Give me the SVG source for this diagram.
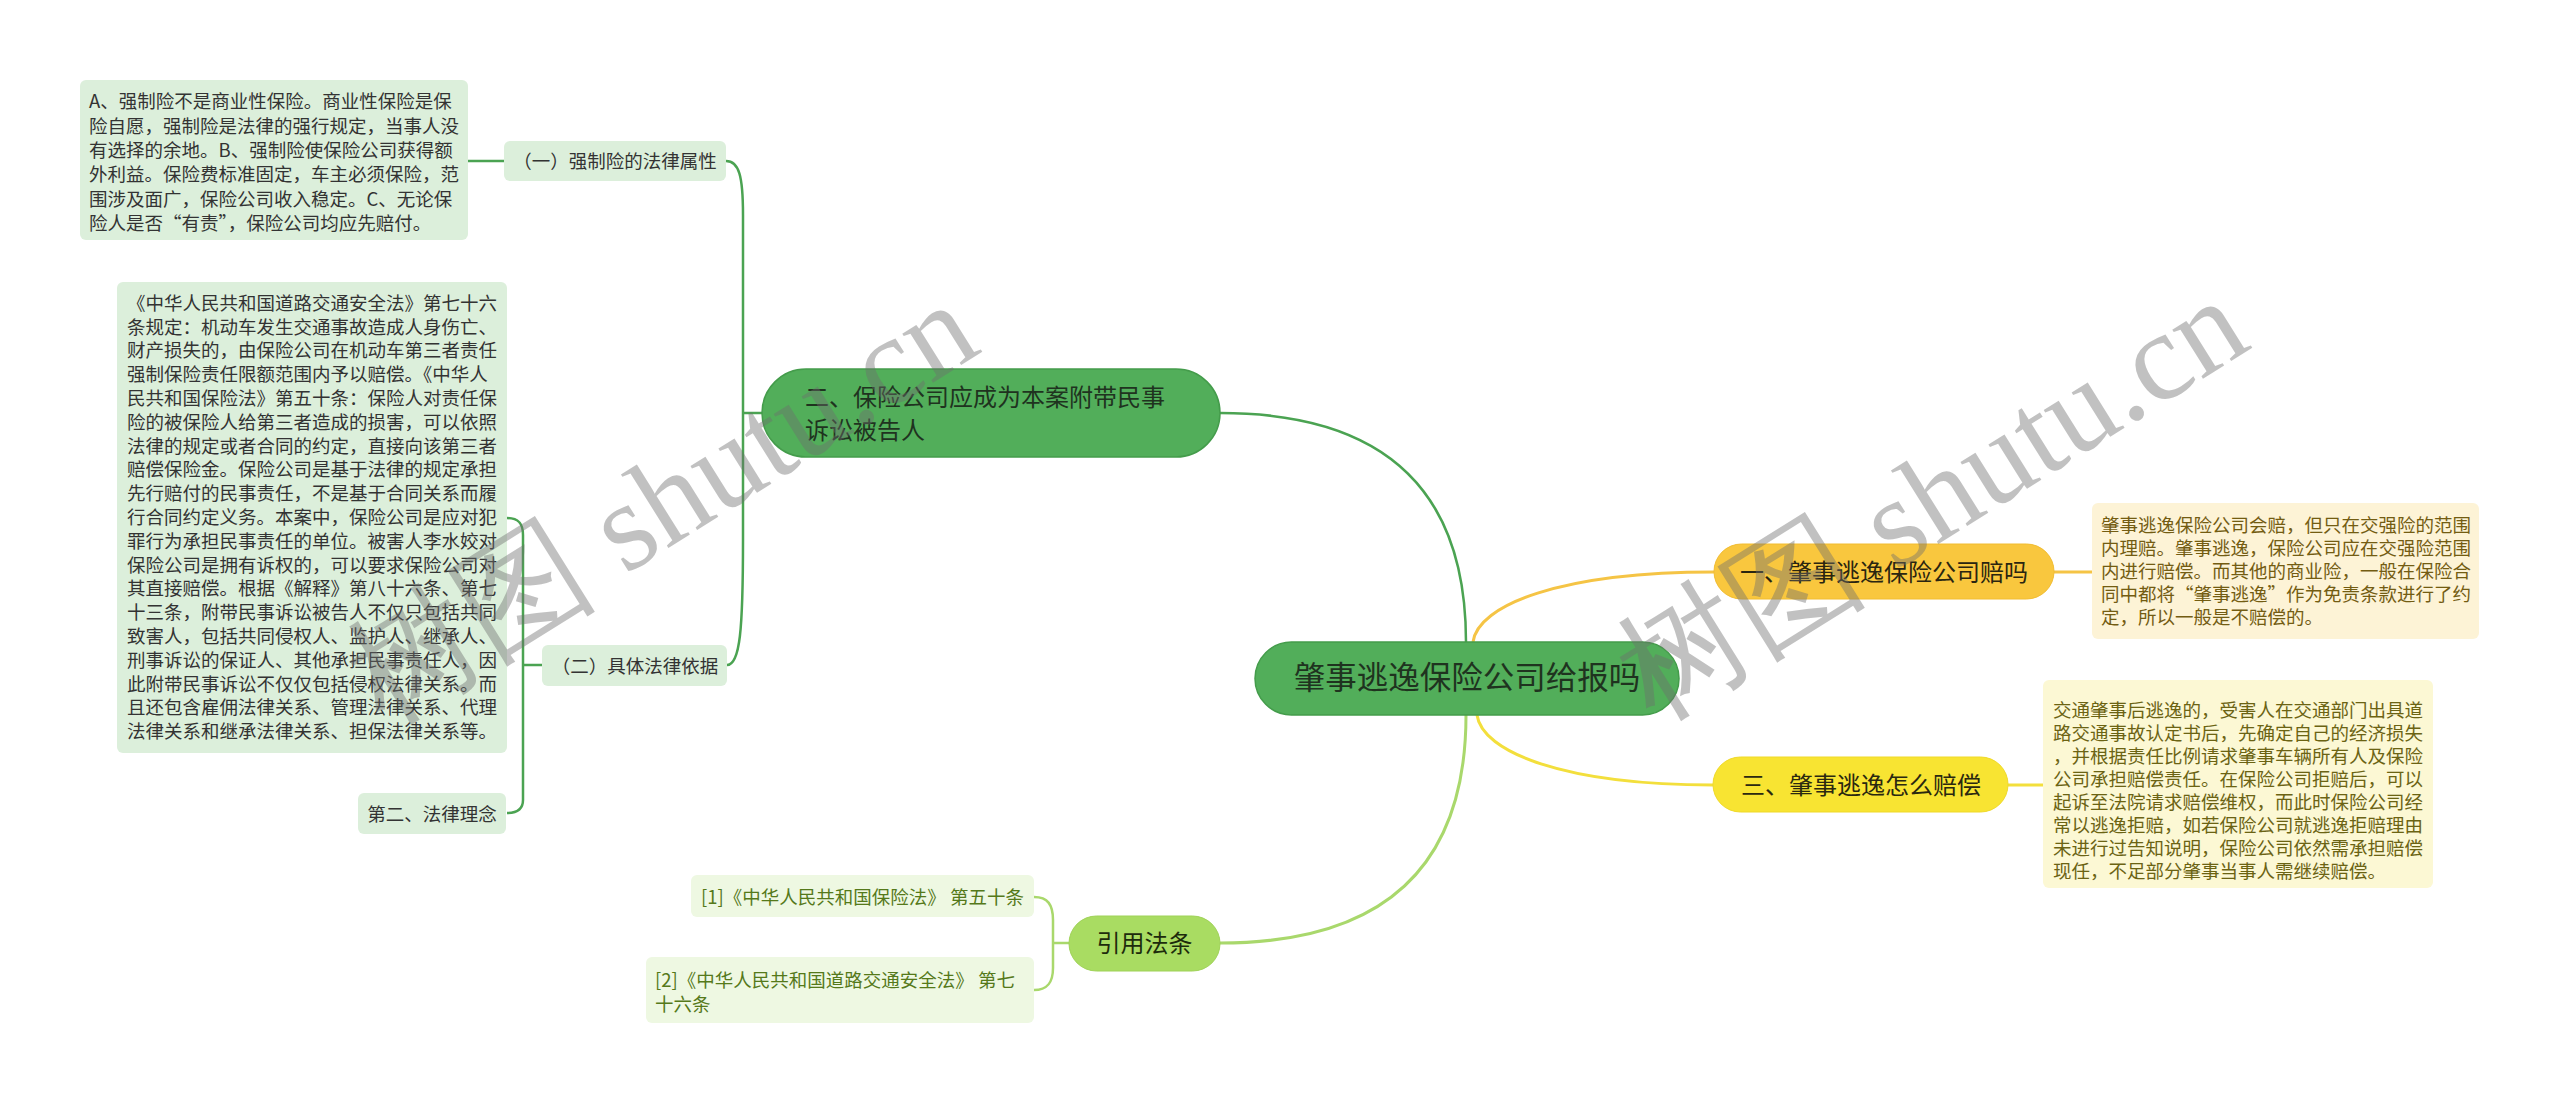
<svg xmlns="http://www.w3.org/2000/svg" width="2560" height="1103" viewBox="0 0 2560 1103">
<style>
.t{font-family:"Noto Sans CJK SC","Noto Sans",sans-serif;}
.t185{font-size:18.5px;}
.t24{font-size:24px;}
.dark{fill:#333333;}
.lg{fill:#dcefdb;}
.main{fill:#52ae5a;stroke:#449c4b;stroke-width:1.5;}
.maintext{fill:#1f331f;}
.cg{fill:none;stroke:#4ba352;stroke-width:2.5;}
.wm{font-family:"Liberation Serif",serif;font-size:126px;fill:#6e6e6e;opacity:0.42;}
</style>
<rect width="2560" height="1103" fill="#ffffff"/>
<g id="connectors">
<path class="cg" d="M1466,642 Q1466,413 1220,413"/>
<path class="cg" d="M762,413 H743 M743,413 V215 C743,176 739,161 726,161 M743,413 V540 C743,630 740,665 727,665"/>
<path class="cg" d="M504,161 H468"/>
<path class="cg" d="M542,665 H523 M507,518 C518,518 523,523 523,535 V800 C523,809 518,813 507,813"/>
<path fill="none" stroke="#f5c445" stroke-width="3" d="M1473,642 C1478,605 1560,572 1714,572 M2054,572 H2092"/>
<path fill="none" stroke="#f3df3c" stroke-width="3" d="M1477,715 C1482,752 1564,785 1713,785 M2008,785 H2043"/>
<path fill="none" stroke="#a9d86c" stroke-width="3" d="M1466,715 Q1466,943 1220,943"/>
<path fill="none" stroke="#a9d86c" stroke-width="2.5" d="M1069,943 H1053 M1034,897 C1048,897 1053,905 1053,920 V968 C1053,982 1048,990 1034,990"/>
</g>
<g id="n-central">
<rect class="main" x="1255" y="642" width="424" height="73" rx="36.5"/>
<text class="t maintext" x="1467" y="689" font-size="31.5" text-anchor="middle">肇事逃逸保险公司给报吗</text>
</g>
<g id="n-er">
<rect class="main" x="762" y="369" width="458" height="88" rx="44"/>
<text class="t maintext t24" x="805" y="405.6">二、保险公司应成为本案附带民事<tspan x="805" dy="33">诉讼被告人</tspan></text>
</g>
<g id="n-yi-a">
<rect class="lg" x="504" y="141" width="222" height="40" rx="6"/>
<text class="t dark t185" x="615" y="167.7" text-anchor="middle">（一）强制险的法律属性</text>
</g>
<g id="n-yi-a-text">
<rect class="lg" x="80" y="80" width="388" height="160" rx="6"/>
<text class="t dark t185" x="89" y="108.4">A、强制险不是商业性保险。商业性保险是保<tspan x="89" dy="24.3">险自愿，强制险是法律的强行规定，当事人没</tspan><tspan x="89" dy="24.3">有选择的余地。B、强制险使保险公司获得额</tspan><tspan x="89" dy="24.3">外利益。保险费标准固定，车主必须保险，范</tspan><tspan x="89" dy="24.3">围涉及面广，保险公司收入稳定。C、无论保</tspan><tspan x="89" dy="24.3">险人是否“有责”，保险公司均应先赔付。</tspan></text>
</g>
<g id="n-er-b">
<rect class="lg" x="542" y="645" width="185" height="41" rx="6"/>
<text class="t dark t185" x="635" y="672.7" text-anchor="middle">（二）具体法律依据</text>
</g>
<g id="n-er-b-text">
<rect class="lg" x="117" y="282" width="390" height="471" rx="6"/>
<text class="t dark t185" x="127" y="309.7">《中华人民共和国道路交通安全法》第七十六<tspan x="127" dy="23.8">条规定：机动车发生交通事故造成人身伤亡、</tspan><tspan x="127" dy="23.8">财产损失的，由保险公司在机动车第三者责任</tspan><tspan x="127" dy="23.8">强制保险责任限额范围内予以赔偿。《中华人</tspan><tspan x="127" dy="23.8">民共和国保险法》第五十条：保险人对责任保</tspan><tspan x="127" dy="23.8">险的被保险人给第三者造成的损害，可以依照</tspan><tspan x="127" dy="23.8">法律的规定或者合同的约定，直接向该第三者</tspan><tspan x="127" dy="23.8">赔偿保险金。保险公司是基于法律的规定承担</tspan><tspan x="127" dy="23.8">先行赔付的民事责任，不是基于合同关系而履</tspan><tspan x="127" dy="23.8">行合同约定义务。本案中，保险公司是应对犯</tspan><tspan x="127" dy="23.8">罪行为承担民事责任的单位。被害人李水姣对</tspan><tspan x="127" dy="23.8">保险公司是拥有诉权的，可以要求保险公司对</tspan><tspan x="127" dy="23.8">其直接赔偿。根据《解释》第八十六条、第七</tspan><tspan x="127" dy="23.8">十三条，附带民事诉讼被告人不仅只包括共同</tspan><tspan x="127" dy="23.8">致害人，包括共同侵权人、监护人、继承人、</tspan><tspan x="127" dy="23.8">刑事诉讼的保证人、其他承担民事责任人，因</tspan><tspan x="127" dy="23.8">此附带民事诉讼不仅仅包括侵权法律关系。而</tspan><tspan x="127" dy="23.8">且还包含雇佣法律关系、管理法律关系、代理</tspan><tspan x="127" dy="23.8">法律关系和继承法律关系、担保法律关系等。</tspan></text>
</g>
<g id="n-dier">
<rect class="lg" x="358" y="793" width="148" height="41" rx="6"/>
<text class="t dark t185" x="432" y="820.7" text-anchor="middle">第二、法律理念</text>
</g>
<g id="n-yi">
<rect x="1714" y="544" width="340" height="55" rx="27.5" fill="#f9c73e" stroke="#f1bc30" stroke-width="1"/>
<text class="t t24" x="1884" y="580.6" text-anchor="middle" fill="#2a2510">一、肇事逃逸保险公司赔吗</text>
</g>
<g id="n-yi-text">
<rect x="2092" y="503" width="387" height="136" rx="6" fill="#fdf3d6"/>
<text class="t t185" x="2101" y="531.7" fill="#735c12">肇事逃逸保险公司会赔，但只在交强险的范围<tspan x="2101" dy="23">内理赔。肇事逃逸，保险公司应在交强险范围</tspan><tspan x="2101" dy="23">内进行赔偿。而其他的商业险，一般在保险合</tspan><tspan x="2101" dy="23">同中都将“肇事逃逸”作为免责条款进行了约</tspan><tspan x="2101" dy="23">定，所以一般是不赔偿的。</tspan></text>
</g>
<g id="n-san">
<rect x="1713" y="757" width="295" height="55" rx="27.5" fill="#f8e432" stroke="#efd928" stroke-width="1"/>
<text class="t t24" x="1861" y="793.6" text-anchor="middle" fill="#2a2810">三、肇事逃逸怎么赔偿</text>
</g>
<g id="n-san-text">
<rect x="2043" y="680" width="390" height="208" rx="6" fill="#fcf8d4"/>
<text class="t t185" x="2053" y="716.7" fill="#6b6313">交通肇事后逃逸的，受害人在交通部门出具道<tspan x="2053" dy="23.1">路交通事故认定书后，先确定自己的经济损失</tspan><tspan x="2053" dy="23.1">，并根据责任比例请求肇事车辆所有人及保险</tspan><tspan x="2053" dy="23.1">公司承担赔偿责任。在保险公司拒赔后，可以</tspan><tspan x="2053" dy="23.1">起诉至法院请求赔偿维权，而此时保险公司经</tspan><tspan x="2053" dy="23.1">常以逃逸拒赔，如若保险公司就逃逸拒赔理由</tspan><tspan x="2053" dy="23.1">未进行过告知说明，保险公司依然需承担赔偿</tspan><tspan x="2053" dy="23.1">现任，不足部分肇事当事人需继续赔偿。</tspan></text>
</g>
<g id="n-yinyong">
<rect x="1069" y="916" width="151" height="55" rx="27.5" fill="#a9dc62" stroke="#9fd257" stroke-width="1"/>
<text class="t t24" x="1144.5" y="951.6" text-anchor="middle" fill="#1d2b0c">引用法条</text>
</g>
<g id="n-law1">
<rect x="691" y="875" width="343" height="42" rx="6" fill="#eef8e2"/>
<text class="t t185" x="701" y="903.7" fill="#55791a">[1]《中华人民共和国保险法》 第五十条</text>
</g>
<g id="n-law2">
<rect x="646" y="957" width="388" height="66" rx="6" fill="#eef8e2"/>
<text class="t t185" x="655" y="986.7" fill="#55791a">[2]《中华人民共和国道路交通安全法》 第七<tspan x="655" dy="24">十六条</tspan></text>
</g>
<g id="watermark">
<text class="wm" x="664" y="544" text-anchor="middle" transform="rotate(-32 664 506)">树图 shutu.cn</text>
<text class="wm" x="1934" y="540" text-anchor="middle" transform="rotate(-32 1934 502)">树图 shutu.cn</text>
</g>
</svg>
